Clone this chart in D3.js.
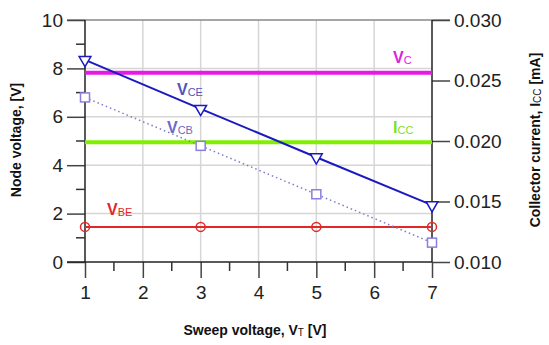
<!DOCTYPE html>
<html>
<head>
<meta charset="utf-8">
<script src="https://cdn.jsdelivr.net/npm/d3@7/dist/d3.min.js"></script>
<style>
  html, body { margin: 0; padding: 0; background: #fff; }
  svg { display: block; font-family: "Liberation Sans", Arial, sans-serif; }
</style>
</head>
<body>
<svg id="chart" width="549" height="345"></svg>
<script>
// Sweep points and node voltages (V) / collector current (mA)
const sweep = [1, 3, 5, 7];
const vce = [8.35, 6.33, 4.33, 2.35];
const vcb = [6.8, 4.8, 2.8, 0.8];
const vbe = [1.45, 1.45, 1.45, 1.45];
const vc = [7.82, 7.82, 7.82, 7.82];
const icc = [0.0199, 0.0199, 0.0199, 0.0199];

const xTicks = [1, 2, 3, 4, 5, 6, 7];
const yTicks = [0, 2, 4, 6, 8, 10];
const yRightTicks = [0.010, 0.015, 0.020, 0.025, 0.030];

const svg = d3.select("#chart");
const plotL = 85, plotR = 432, plotT = 20, plotB = 262;

const x = d3.scaleLinear().domain([1, 7]).range([plotL, plotR]);
const y = d3.scaleLinear().domain([0, 10]).range([plotB, plotT]);
const yR = d3.scaleLinear().domain([0.010, 0.030]).range([plotB, plotT]);

// grid
const grid = svg.append("g");
grid.selectAll("line.gx").data(xTicks.slice(1, -1)).join("line")
  .attr("x1", d => x(d)).attr("x2", d => x(d))
  .attr("y1", plotT).attr("y2", plotB)
  .attr("stroke", "#d6d6d6").attr("stroke-width", 1.5);
grid.selectAll("line.gy").data(yTicks.slice(1, -1)).join("line")
  .attr("x1", plotL).attr("x2", plotR)
  .attr("y1", d => y(d)).attr("y2", d => y(d))
  .attr("stroke", "#d6d6d6").attr("stroke-width", 1.5);

// top border
svg.append("line").attr("x1", plotL - 18).attr("x2", plotR + 18)
  .attr("y1", y(10)).attr("y2", y(10))
  .attr("stroke", "#888").attr("stroke-width", 1.5);

// left axis
const yAxis = d3.axisLeft(y).tickValues(yTicks).tickFormat(d3.format("d")).tickSize(18).tickPadding(4);
const gL = svg.append("g").attr("transform", `translate(${plotL},0)`).call(yAxis);
gL.select(".domain").remove();
gL.append("line").attr("x1", 0).attr("x2", 0).attr("y1", plotT).attr("y2", plotB)
  .attr("stroke", "#222").attr("stroke-width", 1.5);
gL.selectAll("line.minor").data([1, 3, 5, 7, 9]).join("line")
  .attr("x1", -9).attr("x2", 0).attr("y1", d => y(d)).attr("y2", d => y(d))
  .attr("stroke", "#333").attr("stroke-width", 1.5);

// right axis
const yRAxis = d3.axisRight(yR).tickValues(yRightTicks).tickFormat(d3.format(".3f")).tickSize(18).tickPadding(4);
const gR = svg.append("g").attr("transform", `translate(${plotR},0)`).call(yRAxis);
gR.select(".domain").remove();
gR.append("line").attr("x1", 0).attr("x2", 0).attr("y1", plotT).attr("y2", plotB)
  .attr("stroke", "#222").attr("stroke-width", 1.5);

// bottom axis
const xAxis = d3.axisBottom(x).tickValues(xTicks).tickFormat(d3.format("d")).tickSize(16).tickPadding(8);
const gB = svg.append("g").attr("transform", `translate(0,${plotB})`).call(xAxis);
gB.select(".domain").remove();
gB.append("line").attr("x1", plotL - 18).attr("x2", plotR).attr("y1", 0).attr("y2", 0)
  .attr("stroke", "#222").attr("stroke-width", 1.5);
gB.selectAll("line.minor").data([1.5, 2.5, 3.5, 4.5, 5.5, 6.5]).join("line")
  .attr("x1", d => x(d)).attr("x2", d => x(d)).attr("y1", 0).attr("y2", 9)
  .attr("stroke", "#333").attr("stroke-width", 1.5);

[gL, gR, gB].forEach(g => {
  g.selectAll(".tick line").attr("stroke", "#444").attr("stroke-width", 1.5);
  g.selectAll(".tick text").attr("font-size", 19).attr("fill", "#222")
    .attr("font-family", "Liberation Sans, Arial, sans-serif");
});

// series
const lineL = d3.line().x((d, i) => x(sweep[i])).y(d => y(d));
const lineR = d3.line().x((d, i) => x(sweep[i])).y(d => yR(d));

svg.append("path").datum(vc).attr("d", lineL).attr("fill", "none")
  .attr("stroke", "#e619e6").attr("stroke-width", 4);
svg.append("path").datum(icc).attr("d", lineR).attr("fill", "none")
  .attr("stroke", "#80f000").attr("stroke-width", 4);
svg.append("path").datum(vbe).attr("d", lineL).attr("fill", "none")
  .attr("stroke", "#e02828").attr("stroke-width", 2);
svg.append("path").datum(vcb).attr("d", lineL).attr("fill", "none")
  .attr("stroke", "#7c7cc8").attr("stroke-width", 1.5).attr("stroke-dasharray", "1.5,3");
svg.append("path").datum(vce).attr("d", lineL).attr("fill", "none")
  .attr("stroke", "#1a1ac0").attr("stroke-width", 2);

// markers
svg.selectAll("circle.vbe").data(vbe).join("circle")
  .attr("cx", (d, i) => x(sweep[i])).attr("cy", d => y(d)).attr("r", 4.5)
  .attr("fill", "none").attr("stroke", "#e02828").attr("stroke-width", 1.5);
svg.selectAll("rect.vcb").data(vcb).join("rect")
  .attr("x", (d, i) => x(sweep[i]) - 4.5).attr("y", d => y(d) - 4.5)
  .attr("width", 9).attr("height", 9)
  .attr("fill", "#fff").attr("stroke", "#8a7ee0").attr("stroke-width", 1.5);
const tri = d3.symbol().type(d3.symbolTriangle).size(60);
svg.selectAll("path.vce").data(vce).join("path")
  .attr("d", tri)
  .attr("transform", (d, i) => `translate(${x(sweep[i])},${y(d)}) rotate(180)`)
  .attr("fill", "#fff").attr("stroke", "#1a1ac0").attr("stroke-width", 1.5);

// series labels
function label(px, py, main, sub, color) {
  const t = svg.append("text").attr("x", px).attr("y", py).attr("fill", color)
    .attr("font-weight", "bold").attr("font-size", 16);
  t.append("tspan").text(main);
  t.append("tspan").text(sub).attr("font-size", 11).attr("font-weight", "normal").attr("dy", 1);
}
label(177, 95, "V", "CE", "#5353c0");
label(167, 133, "V", "CB", "#6a6ac8");
label(393, 63, "V", "C", "#e020e0");
label(393, 133, "I", "CC", "#80e020");
label(107, 215, "V", "BE", "#e02828");

// axis titles
const title = (tx, ty, rot) => svg.append("text")
  .attr("transform", `translate(${tx},${ty}) rotate(${rot})`)
  .attr("text-anchor", "middle").attr("font-weight", "bold").attr("font-size", 14).attr("fill", "#111");

const tL = title(21, 140, -90);
tL.append("tspan").text("Node voltage, [V]");

const tB = title(255, 335, 0);
tB.append("tspan").text("Sweep voltage, V");
tB.append("tspan").text("T").attr("font-size", 10).attr("font-weight", "normal").attr("dy", 1);
tB.append("tspan").text(" [V]").attr("dy", -1);

const tR = title(540, 140, -90);
tR.append("tspan").text("Collector current, I");
tR.append("tspan").text("CC").attr("font-size", 10).attr("font-weight", "normal").attr("dy", 1);
tR.append("tspan").text(" [mA]").attr("dy", -1);
</script>
</body>
</html>
